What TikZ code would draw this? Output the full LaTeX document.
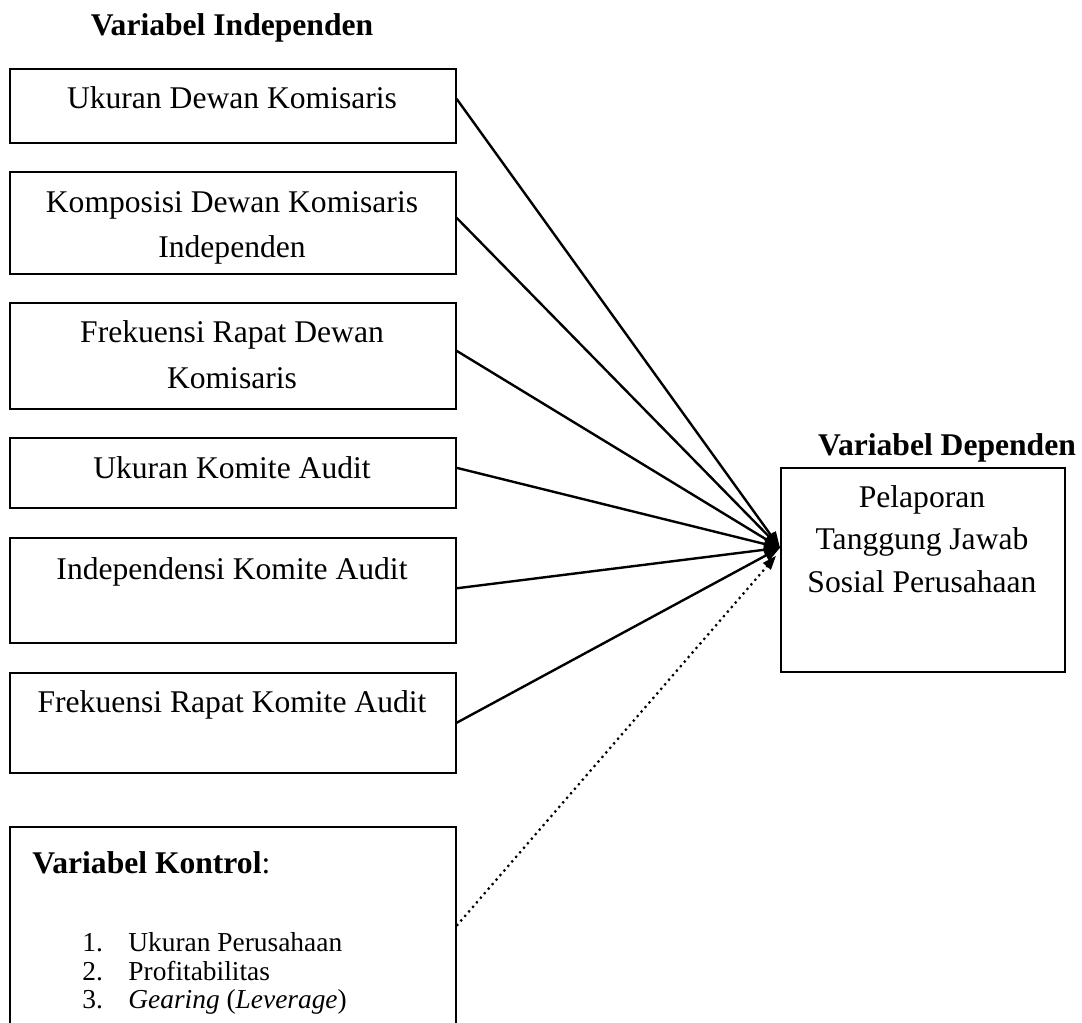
\documentclass[tikz,border=0pt]{standalone}
\usepackage{fontspec}
\setmainfont{Liberation Serif}
\usetikzlibrary{arrows.meta}
\begin{document}
\begin{tikzpicture}[x=0.5pt,y=-0.5pt,
  box/.style={draw, line width=0.8pt, inner sep=0pt, minimum width=223pt, anchor=north west},
  txt/.style={anchor=base, inner sep=0pt, font=\fontsize{15.8}{19}\selectfont},
  btxt/.style={anchor=base, inner sep=0pt, font=\fontsize{15.8}{19}\selectfont\bfseries},
  ltxt/.style={anchor=base west, inner sep=0pt, font=\fontsize{13.7}{16}\selectfont},
  conn/.style={line width=1.2pt, -{Triangle[length=8pt,width=6pt]}},
  dotconn/.style={line width=1.1pt, dash pattern=on 1.1pt off 1.9pt, -{Triangle[length=7pt,width=5pt]}}
]
\clip (0,0) rectangle (1082,1023);
\fill[white] (0,0) rectangle (1082,1023);

% titles
\node[btxt] (tind) at (232,35) {Variabel Independen};
\node[btxt] (tdep) at (947,455) {Variabel Dependen};

% independent boxes
\node[box, minimum height=37pt] (b1) at (9,68) {};
\node[box, minimum height=51pt] (b2) at (9,171) {};
\node[box, minimum height=53pt] (b3) at (9,302) {};
\node[box, minimum height=35pt] (b4) at (9,437) {};
\node[box, minimum height=52.5pt] (b5) at (9,537) {};
\node[box, minimum height=50pt] (b6) at (9,672) {};
\node[box, minimum height=110pt] (ctrl) at (9,826) {};

\node[txt] (t1) at (232,108) {Ukuran Dewan Komisaris};
\node[txt] (t2a) at (232,212) {Komposisi Dewan Komisaris};
\node[txt] (t2b) at (232,257) {Independen};
\node[txt] (t3a) at (232,342) {Frekuensi Rapat Dewan};
\node[txt] (t3b) at (232,388) {Komisaris};
\node[txt] (t4) at (232,478) {Ukuran Komite Audit};
\node[txt] (t5) at (232,579) {Independensi Komite Audit};
\node[txt] (t6) at (232,712) {Frekuensi Rapat Komite Audit};

% control box text
\node[anchor=base west, inner sep=0pt, font=\fontsize{15.8}{19}\selectfont] (tc) at (32,873) {\textbf{Variabel Kontrol}:};
\node[ltxt] (n1) at (82,951) {1.};
\node[ltxt] (i1) at (128,951) {Ukuran Perusahaan};
\node[ltxt] (n2) at (82,980) {2.};
\node[ltxt] (i2) at (128,980) {Profitabilitas};
\node[ltxt] (n3) at (82,1008) {3.};
\node[ltxt] (i3) at (128,1008) {\textit{Gearing} (\textit{Leverage})};

% dependent box
\node[draw, line width=0.8pt, inner sep=0pt, minimum width=142pt, minimum height=102pt, anchor=north west] (dep) at (780,467) {};
\node[txt] (d1) at (922,507) {Pelaporan};
\node[txt] (d2) at (922,549) {Tanggung Jawab};
\node[txt] (d3) at (922,592) {Sosial Perusahaan};

% connectors
\coordinate (hub) at ([yshift=11pt]dep.west);
\coordinate (hubd) at ([yshift=7pt,xshift=-2pt]dep.west);
\draw[conn] ([yshift=3.5pt]b1.east) -- (hub);
\draw[conn] ([yshift=2.5pt]b2.east) -- (hub);
\draw[conn] ([yshift=2.5pt]b3.east) -- (hub);
\draw[conn] ([yshift=2.5pt]b4.east) -- (hub);
\draw[conn] ([yshift=1pt]b5.east) -- (hub);
\draw[conn] (b6.east) -- (hub);
\draw[dotconn] ([yshift=5.5pt]ctrl.east) -- (hubd);
\end{tikzpicture}
\end{document}
